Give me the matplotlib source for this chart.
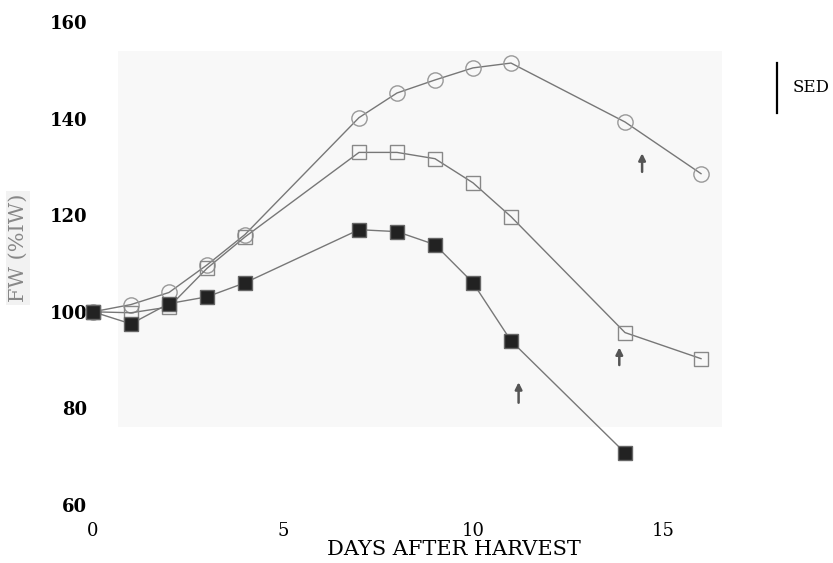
import matplotlib.pyplot as plt
from matplotlib.patches import Rectangle

# days after harvest
days_circ = [0, 1, 2, 3, 4, 7, 8, 9, 10, 11, 14, 16]
fw_circ = [100, 101.5, 104, 109.7, 116, 140.2, 145.3, 148, 150.5, 151.5, 139.3, 128.6]

days_open = [0, 1, 2, 3, 4, 7, 8, 9, 10, 11, 14, 16]
fw_open = [100, 99.8, 101, 109, 115.5, 133, 133, 131.7, 126.7, 119.7, 95.7, 90.3]

days_fill = [0, 1, 2, 3, 4, 7, 8, 9, 10, 11, 14]
fw_fill = [100, 97.5, 101.7, 103.1, 106, 117, 116.6, 113.9, 106, 94, 70.8]

# arrows: (day, tail, head)
arrows = [(11.2, 80.6, 86.0), (13.85, 88.4, 93.2), (14.45, 128.4, 133.4)]
sed_top, sed_bottom = 151.5, 141.2

yticks = [60, 80, 100, 120, 140, 160]
xticks = [0, 5, 10, 15]

fig = plt.figure(figsize=(8.33, 5.63), dpi=100)
ax = fig.add_axes([93 / 833, 58 / 563, 722 / 833, 483 / 563])
ax.set_xlim(0, 19)
ax.set_ylim(60, 160)
for s in ax.spines.values():
    s.set_visible(False)

# faint scan background
ax.add_patch(Rectangle((0.66, 76.2), 15.9, 77.8, facecolor='#f8f8f8',
                       edgecolor='none', zorder=0))

line_c = '#777777'
ax.plot(days_circ, fw_circ, color=line_c, lw=1, marker='o', ms=11,
        mfc='none', mec='#999999', mew=1, clip_on=False, zorder=3)
ax.plot(days_open, fw_open, color=line_c, lw=1, marker='s', ms=10,
        mfc='none', mec='#888888', mew=1, clip_on=False, zorder=3)
ax.plot(days_fill, fw_fill, color=line_c, lw=1, marker='s', ms=10,
        mfc='#222222', mec='#666666', mew=1, clip_on=False, zorder=4)

for d, y0, y1 in arrows:
    ax.annotate('', xy=(d, y1), xytext=(d, y0),
                arrowprops=dict(arrowstyle='-|>', color='#555555', lw=1.8,
                                mutation_scale=10))

# SED bar
ax.plot([18.0, 18.0], [sed_bottom, sed_top], color='black', lw=1.6, clip_on=False)
ax.text(18.4, (sed_top + sed_bottom) / 2, 'SED', fontsize=12, family='DejaVu Serif',
        va='center', ha='left', clip_on=False)

ax.set_yticks(yticks)
ax.set_yticklabels([str(v) for v in yticks], fontsize=13, family='DejaVu Serif',
                   fontweight='bold')
ax.set_xticks(xticks)
ax.set_xticklabels([str(v) for v in xticks], fontsize=13, family='DejaVu Serif')
ax.tick_params(axis='y', length=0, pad=4)
ax.tick_params(axis='x', length=0, pad=12)

ax.set_xlabel('DAYS AFTER HARVEST', fontsize=15, family='DejaVu Serif', labelpad=0)
fig.text(18 / 833, 1 - 248 / 563, 'FW (%IW)', rotation=90, fontsize=15,
         family='DejaVu Serif', color='#888888', ha='center', va='center',
         bbox=dict(facecolor='#f2f2f2', edgecolor='none', pad=2))

fig.savefig('out.png', dpi=100)
